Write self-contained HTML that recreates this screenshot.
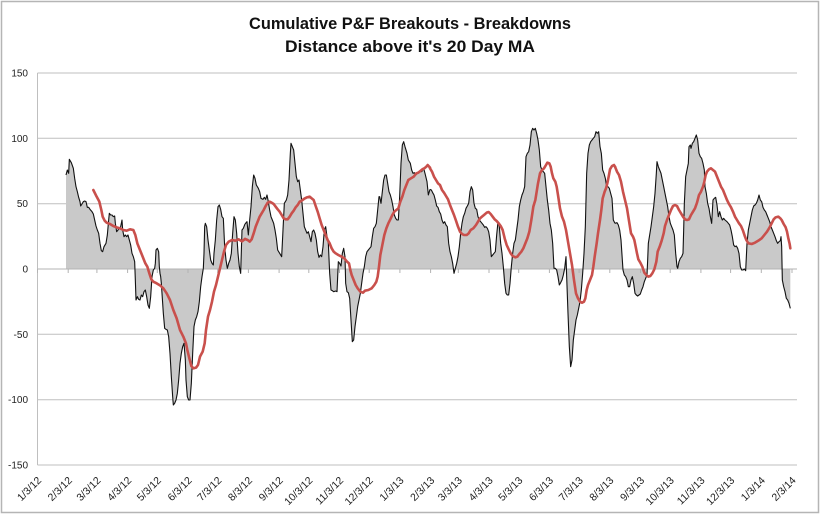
<!DOCTYPE html>
<html>
<head>
<meta charset="utf-8">
<style>
html,body{margin:0;padding:0;background:#fff;}
svg{display:block;}
</style>
</head>
<body>
<svg width="820" height="514" viewBox="0 0 820 514" xmlns="http://www.w3.org/2000/svg">
<rect x="0" y="0" width="820" height="514" fill="#fff"/>
<rect x="1.5" y="1.5" width="817" height="511" fill="none" stroke="#b5b5b5" stroke-width="1.5"/>

<!-- title -->
<text x="410" y="29" text-anchor="middle" font-family="Liberation Sans, sans-serif" font-weight="bold" font-size="17" fill="#111" textLength="322" lengthAdjust="spacingAndGlyphs">Cumulative P&amp;F Breakouts - Breakdowns</text>
<text x="410" y="52" text-anchor="middle" font-family="Liberation Sans, sans-serif" font-weight="bold" font-size="17" fill="#111" textLength="250" lengthAdjust="spacingAndGlyphs">Distance above it's 20 Day MA</text>

<!-- gridlines -->
<g stroke="#bfbfbf" stroke-width="1">
<line x1="37.5" y1="73" x2="797" y2="73"/>
<line x1="37.5" y1="138.3" x2="797" y2="138.3"/>
<line x1="37.5" y1="203.7" x2="797" y2="203.7"/>
<line x1="37.5" y1="334.3" x2="797" y2="334.3"/>
<line x1="37.5" y1="399.7" x2="797" y2="399.7"/>
<line x1="37.5" y1="465" x2="797" y2="465"/>
<line x1="37.5" y1="73" x2="37.5" y2="465"/>
</g>

<!-- y labels -->
<g font-family="Liberation Sans, sans-serif" font-size="10" fill="#222" text-anchor="end">
<text x="28" y="76.5">150</text>
<text x="28" y="141.8">100</text>
<text x="28" y="207.2">50</text>
<text x="28" y="272.5">0</text>
<text x="28" y="337.8">-50</text>
<text x="28" y="403.2">-100</text>
<text x="28" y="468.5">-150</text>
</g>

<!-- fills -->
<g fill="#c9c9c9" stroke="none">
<g transform="translate(60,120) scale(0.333333)">
<polygon points="18,447 18,165 22,150 26,160 28,118 34,128 40,145 44,175 48,200 52,215 56,232 60,245 62,258 66,252 70,245 74,243 78,245 82,262 86,262 90,268 96,275 100,282 104,300 108,318 112,330 116,340 120,370 124,392 128,395 132,380 138,370 142,345 146,300 148,280 152,285 156,285 160,290 164,288 166,310 170,335 174,330 178,325 182,320 186,300 188,330 192,350 196,345 200,350 204,345 208,360 212,375 216,400 220,410 224,425 226,480 228,540 232,530 236,538 240,540 244,525 248,530 252,515 256,510 260,530 264,555 268,565 272,530 276,470 280,450 284,445 286,430 288,390 292,385 296,395 298,440 300,460 302,470 304,490 306,520 310,580 314,625 318,628 322,630 326,650 330,700 334,770 338,830 340,855 344,850 348,840 352,820 356,780 360,730 364,700 368,680 372,670 376,720 378,780 382,830 386,840 390,840 394,790 398,700 402,620 406,600 410,590 414,575 418,545 422,500 426,470 430,445 432,400 434,320 436,310 440,320 444,360 448,390 452,420 456,430 460,435 462,400 466,360 470,300 474,260 478,255 482,268 486,290 490,295 494,380 498,420 502,445 506,430 510,420 514,400 518,340 522,290 526,300 530,340 534,400 538,440 542,460 546,330 550,325 555,318 558,314 558,447"/>
</g>
<g transform="translate(245,120) scale(0.333333)">
<polygon points="0,447 0,312 6,305 10,345 14,300 18,260 22,200 26,165 30,175 34,195 40,205 44,215 48,235 54,238 58,232 62,238 66,225 70,245 74,270 78,290 82,300 86,310 90,330 94,355 98,390 104,400 110,410 114,330 118,250 124,240 128,225 132,180 136,100 138,70 142,80 146,90 150,130 154,170 158,185 162,180 166,210 170,240 174,280 178,320 182,330 186,340 190,335 194,350 198,365 202,335 206,330 210,340 214,360 218,395 222,412 226,405 230,410 234,380 238,330 242,320 246,350 250,370 254,460 258,510 262,512 266,515 272,513 276,515 280,425 284,430 288,438 292,400 296,385 300,410 302,490 306,515 310,518 314,535 318,600 322,665 326,660 330,620 334,590 338,560 342,540 346,520 350,490 354,460 358,440 362,410 366,395 370,390 374,385 378,380 382,350 386,325 390,320 394,310 398,270 402,230 404,230 408,250 412,215 416,180 420,165 424,165 428,190 432,215 436,225 440,240 444,260 448,285 452,295 456,300 460,300 464,230 468,130 472,75 476,65 480,80 486,100 490,120 496,130 500,150 504,160 508,158 512,165 518,160 522,158 526,152 530,155 536,145 540,160 546,185 550,225 555,208 558,208 558,447"/>
</g>
<g transform="translate(430,120) scale(0.333333)">
<polygon points="0,447 0,208 4,210 8,218 12,225 16,240 20,258 24,262 28,275 32,282 36,300 40,310 44,305 48,315 52,320 56,370 60,395 64,410 68,430 72,460 76,445 80,430 84,410 88,380 92,340 96,310 100,290 104,280 108,265 112,258 116,250 120,215 124,200 128,210 132,250 136,265 140,268 144,290 148,300 152,305 156,310 160,315 164,322 168,320 172,325 176,335 180,360 184,410 188,405 192,400 196,395 200,345 204,305 208,320 212,370 216,400 220,440 224,490 228,520 232,525 236,525 240,490 244,440 248,400 252,370 256,360 260,330 264,300 268,260 272,240 276,225 280,215 284,200 288,110 292,100 296,95 300,75 304,35 308,25 312,30 316,25 320,40 324,60 328,90 332,140 336,150 340,155 344,160 348,200 352,240 356,270 360,310 364,330 368,370 372,445 376,445 380,450 384,470 388,495 392,488 396,480 400,465 404,445 408,410 410,470 414,580 418,680 422,740 426,720 430,660 434,630 438,600 442,585 446,565 450,545 454,510 458,460 462,400 466,320 470,160 474,100 478,75 482,65 486,60 490,55 494,50 498,35 502,40 506,35 510,80 514,100 518,150 522,160 526,175 530,200 534,200 538,205 542,220 546,235 550,300 555,310 558,310 558,447"/>
</g>
<g transform="translate(615,120) scale(0.333333)">
<polygon points="0,447 0,310 6,308 10,315 14,330 18,360 22,420 24,450 28,465 32,470 36,480 40,500 44,500 48,480 52,470 56,490 60,520 64,525 68,528 72,525 76,522 80,510 84,500 88,485 92,475 96,465 98,420 100,370 104,345 108,320 112,290 116,260 120,220 124,160 126,125 130,140 134,150 138,160 142,180 146,200 150,220 154,240 158,260 162,290 166,310 170,320 174,330 178,345 182,400 186,440 188,445 192,425 196,415 200,410 204,400 206,330 208,250 212,170 216,150 220,130 222,80 226,75 228,85 232,70 236,65 240,55 244,45 248,60 252,100 256,110 260,115 264,130 268,150 270,200 274,220 278,250 282,265 286,290 290,310 294,240 298,235 302,232 306,255 310,290 314,275 318,290 322,300 326,295 330,300 336,305 340,310 344,315 348,330 352,350 356,375 360,380 364,378 368,385 372,400 376,440 380,450 384,450 388,447 392,452 396,370 400,330 404,310 408,290 412,270 416,258 420,255 424,250 428,240 432,225 436,240 440,245 444,262 448,270 452,275 456,285 460,295 464,305 468,320 472,330 476,340 480,350 484,362 488,370 492,365 496,362 498,350 500,380 502,480 506,500 510,515 514,535 518,540 520,545 522,550 526,565 526,447"/>
</g>
</g>

<!-- zero axis + ticks -->
<g stroke="#b3b3b3" stroke-width="1">
<line x1="37.5" y1="269" x2="797" y2="269"/>
<line x1="37.5" y1="269" x2="37.5" y2="273"/>
<line x1="68.2" y1="269" x2="68.2" y2="273"/>
<line x1="96.9" y1="269" x2="96.9" y2="273"/>
<line x1="127.6" y1="269" x2="127.6" y2="273"/>
<line x1="157.3" y1="269" x2="157.3" y2="273"/>
<line x1="188" y1="269" x2="188" y2="273"/>
<line x1="217.7" y1="269" x2="217.7" y2="273"/>
<line x1="248.4" y1="269" x2="248.4" y2="273"/>
<line x1="279.1" y1="269" x2="279.1" y2="273"/>
<line x1="308.8" y1="269" x2="308.8" y2="273"/>
<line x1="339.5" y1="269" x2="339.5" y2="273"/>
<line x1="369.2" y1="269" x2="369.2" y2="273"/>
<line x1="399.9" y1="269" x2="399.9" y2="273"/>
<line x1="430.6" y1="269" x2="430.6" y2="273"/>
<line x1="458.3" y1="269" x2="458.3" y2="273"/>
<line x1="489" y1="269" x2="489" y2="273"/>
<line x1="518.7" y1="269" x2="518.7" y2="273"/>
<line x1="549.4" y1="269" x2="549.4" y2="273"/>
<line x1="579.1" y1="269" x2="579.1" y2="273"/>
<line x1="609.8" y1="269" x2="609.8" y2="273"/>
<line x1="640.5" y1="269" x2="640.5" y2="273"/>
<line x1="670.2" y1="269" x2="670.2" y2="273"/>
<line x1="700.9" y1="269" x2="700.9" y2="273"/>
<line x1="730.6" y1="269" x2="730.6" y2="273"/>
<line x1="761.3" y1="269" x2="761.3" y2="273"/>
<line x1="792" y1="269" x2="792" y2="273"/>
</g>

<!-- black line -->
<g fill="none" stroke="#111" stroke-width="1.1" stroke-linejoin="round">
<g transform="translate(60,120) scale(0.333333)">
<polyline vector-effect="non-scaling-stroke" points="18,165 22,150 26,160 28,118 34,128 40,145 44,175 48,200 52,215 56,232 60,245 62,258 66,252 70,245 74,243 78,245 82,262 86,262 90,268 96,275 100,282 104,300 108,318 112,330 116,340 120,370 124,392 128,395 132,380 138,370 142,345 146,300 148,280 152,285 156,285 160,290 164,288 166,310 170,335 174,330 178,325 182,320 186,300 188,330 192,350 196,345 200,350 204,345 208,360 212,375 216,400 220,410 224,425 226,480 228,540 232,530 236,538 240,540 244,525 248,530 252,515 256,510 260,530 264,555 268,565 272,530 276,470 280,450 284,445 286,430 288,390 292,385 296,395 298,440 300,460 302,470 304,490 306,520 310,580 314,625 318,628 322,630 326,650 330,700 334,770 338,830 340,855 344,850 348,840 352,820 356,780 360,730 364,700 368,680 372,670 376,720 378,780 382,830 386,840 390,840 394,790 398,700 402,620 406,600 410,590 414,575 418,545 422,500 426,470 430,445 432,400 434,320 436,310 440,320 444,360 448,390 452,420 456,430 460,435 462,400 466,360 470,300 474,260 478,255 482,268 486,290 490,295 494,380 498,420 502,445 506,430 510,420 514,400 518,340 522,290 526,300 530,340 534,400 538,440 542,460 546,330 550,325 555,312"/>
</g>
<g transform="translate(245,120) scale(0.333333)">
<polyline vector-effect="non-scaling-stroke" points="0,312 6,305 10,345 14,300 18,260 22,200 26,165 30,175 34,195 40,205 44,215 48,235 54,238 58,232 62,238 66,225 70,245 74,270 78,290 82,300 86,310 90,330 94,355 98,390 104,400 110,410 114,330 118,250 124,240 128,225 132,180 136,100 138,70 142,80 146,90 150,130 154,170 158,185 162,180 166,210 170,240 174,280 178,320 182,330 186,340 190,335 194,350 198,365 202,335 206,330 210,340 214,360 218,395 222,412 226,405 230,410 234,380 238,330 242,320 246,350 250,370 254,460 258,510 262,512 266,515 272,513 276,515 280,425 284,430 288,438 292,400 296,385 300,410 302,490 306,515 310,518 314,535 318,600 322,665 326,660 330,620 334,590 338,560 342,540 346,520 350,490 354,460 358,440 362,410 366,395 370,390 374,385 378,380 382,350 386,325 390,320 394,310 398,270 402,230 404,230 408,250 412,215 416,180 420,165 424,165 428,190 432,215 436,225 440,240 444,260 448,285 452,295 456,300 460,300 464,230 468,130 472,75 476,65 480,80 486,100 490,120 496,130 500,150 504,160 508,158 512,165 518,160 522,158 526,152 530,155 536,145 540,160 546,185 550,225 555,208"/>
</g>
<g transform="translate(430,120) scale(0.333333)">
<polyline vector-effect="non-scaling-stroke" points="0,208 4,210 8,218 12,225 16,240 20,258 24,262 28,275 32,282 36,300 40,310 44,305 48,315 52,320 56,370 60,395 64,410 68,430 72,460 76,445 80,430 84,410 88,380 92,340 96,310 100,290 104,280 108,265 112,258 116,250 120,215 124,200 128,210 132,250 136,265 140,268 144,290 148,300 152,305 156,310 160,315 164,322 168,320 172,325 176,335 180,360 184,410 188,405 192,400 196,395 200,345 204,305 208,320 212,370 216,400 220,440 224,490 228,520 232,525 236,525 240,490 244,440 248,400 252,370 256,360 260,330 264,300 268,260 272,240 276,225 280,215 284,200 288,110 292,100 296,95 300,75 304,35 308,25 312,30 316,25 320,40 324,60 328,90 332,140 336,150 340,155 344,160 348,200 352,240 356,270 360,310 364,330 368,370 372,445 376,445 380,450 384,470 388,495 392,488 396,480 400,465 404,445 408,410 410,470 414,580 418,680 422,740 426,720 430,660 434,630 438,600 442,585 446,565 450,545 454,510 458,460 462,400 466,320 470,160 474,100 478,75 482,65 486,60 490,55 494,50 498,35 502,40 506,35 510,80 514,100 518,150 522,160 526,175 530,200 534,200 538,205 542,220 546,235 550,300 555,310"/>
</g>
<g transform="translate(615,120) scale(0.333333)">
<polyline vector-effect="non-scaling-stroke" points="0,310 6,308 10,315 14,330 18,360 22,420 24,450 28,465 32,470 36,480 40,500 44,500 48,480 52,470 56,490 60,520 64,525 68,528 72,525 76,522 80,510 84,500 88,485 92,475 96,465 98,420 100,370 104,345 108,320 112,290 116,260 120,220 124,160 126,125 130,140 134,150 138,160 142,180 146,200 150,220 154,240 158,260 162,290 166,310 170,320 174,330 178,345 182,400 186,440 188,445 192,425 196,415 200,410 204,400 206,330 208,250 212,170 216,150 220,130 222,80 226,75 228,85 232,70 236,65 240,55 244,45 248,60 252,100 256,110 260,115 264,130 268,150 270,200 274,220 278,250 282,265 286,290 290,310 294,240 298,235 302,232 306,255 310,290 314,275 318,290 322,300 326,295 330,300 336,305 340,310 344,315 348,330 352,350 356,375 360,380 364,378 368,385 372,400 376,440 380,450 384,450 388,447 392,452 396,370 400,330 404,310 408,290 412,270 416,258 420,255 424,250 428,240 432,225 436,240 440,245 444,262 448,270 452,275 456,285 460,295 464,305 468,320 472,330 476,340 480,350 484,362 488,370 492,365 496,362 498,350 500,380 502,480 506,500 510,515 514,535 518,540 520,545 522,550 526,565"/>
</g>
</g>

<!-- red MA line -->
<g fill="none" stroke="#c9504c" stroke-width="2.6" stroke-linejoin="round" stroke-linecap="round">
<g transform="translate(60,120) scale(0.333333)">
<polyline vector-effect="non-scaling-stroke" points="100,210 110,230 118,245 124,270 128,290 134,302 140,308 150,312 160,318 170,322 180,325 190,330 200,332 210,328 220,330 226,345 232,370 238,385 244,400 250,415 256,430 262,440 268,460 274,478 280,485 290,490 300,496 310,505 320,520 330,540 340,570 350,595 360,630 370,650 378,670 382,690 388,715 394,738 400,745 408,743 414,735 420,710 428,695 434,670 438,630 444,590 450,570 456,545 462,515 468,495 474,470 480,445 486,420 492,395 498,375 506,365 516,360 526,362 536,358 546,364 555,357"/>
</g>
<g transform="translate(245,120) scale(0.333333)">
<polyline vector-effect="non-scaling-stroke" points="0,357 8,360 14,365 20,358 26,340 32,320 38,305 44,290 50,280 56,270 62,258 68,248 74,245 80,248 86,252 92,260 98,268 104,275 110,285 116,295 122,298 128,298 134,290 140,280 146,272 152,262 158,255 164,245 170,242 178,236 186,232 194,230 200,235 206,240 212,258 218,275 224,295 230,315 236,330 242,345 248,360 254,370 260,385 266,395 272,400 280,405 290,410 298,415 306,425 312,430 316,450 320,465 326,480 332,495 338,505 346,515 354,518 360,512 370,510 380,505 388,495 394,485 398,470 402,440 406,405 410,385 414,365 418,345 424,325 430,310 436,298 442,285 448,275 454,270 460,265 466,245 472,230 478,210 484,195 490,180 498,175 506,170 514,160 520,158 526,153 532,148 538,145 544,140 548,135 555,143"/>
</g>
<g transform="translate(430,120) scale(0.333333)">
<polyline vector-effect="non-scaling-stroke" points="0,145 6,155 12,170 18,180 24,190 30,195 36,210 42,218 48,228 54,238 60,255 66,270 72,285 78,302 84,320 90,335 96,342 102,345 110,345 116,340 122,330 130,325 138,315 144,305 150,295 156,290 162,285 170,278 176,276 182,282 188,290 194,298 200,303 206,310 212,318 218,330 224,355 230,375 236,388 242,400 248,408 256,412 262,410 268,402 274,395 280,385 286,370 292,355 298,335 304,300 310,260 316,240 320,215 324,190 330,160 336,150 342,145 348,135 352,128 358,130 362,140 366,160 370,175 376,185 380,200 384,225 390,265 396,290 402,305 408,330 414,365 420,400 426,435 432,480 438,520 444,535 450,545 456,548 462,545 466,535 470,510 474,495 480,480 486,465 490,440 494,410 500,370 504,340 510,300 514,270 518,235 524,215 528,205 532,190 536,170 540,148 546,138 552,135 555,140"/>
</g>
<g transform="translate(615,120) scale(0.333333)">
<polyline vector-effect="non-scaling-stroke" points="0,140 6,155 12,165 18,185 24,215 30,240 36,265 40,290 44,315 48,340 54,350 58,360 62,380 66,400 70,418 76,428 82,440 88,458 94,465 100,470 106,468 112,460 118,448 124,425 128,395 134,380 140,362 146,340 150,318 156,300 162,285 168,270 174,258 180,255 186,258 192,270 198,280 204,290 210,298 216,300 222,298 228,285 234,275 240,265 246,248 252,225 258,215 264,200 268,185 272,165 276,155 282,148 288,145 294,150 300,155 306,170 312,185 318,200 324,210 330,225 336,240 342,252 348,262 354,275 360,290 366,300 372,310 378,318 384,332 390,350 394,360 400,370 410,372 420,368 430,362 440,355 448,345 456,335 464,322 470,310 476,298 482,292 490,290 496,295 500,300 506,312 512,322 516,335 520,355 524,372 526,385"/>
</g>
</g>

<!-- x labels -->
<g font-family="Liberation Sans, sans-serif" font-size="10.5" fill="#222" text-anchor="end">
<text transform="translate(42,481) rotate(-45)">1/3/12</text>
<text transform="translate(72.7,481) rotate(-45)">2/3/12</text>
<text transform="translate(101.4,481) rotate(-45)">3/3/12</text>
<text transform="translate(132.1,481) rotate(-45)">4/3/12</text>
<text transform="translate(161.8,481) rotate(-45)">5/3/12</text>
<text transform="translate(192.5,481) rotate(-45)">6/3/12</text>
<text transform="translate(222.2,481) rotate(-45)">7/3/12</text>
<text transform="translate(252.9,481) rotate(-45)">8/3/12</text>
<text transform="translate(283.6,481) rotate(-45)">9/3/12</text>
<text transform="translate(313.3,481) rotate(-45)">10/3/12</text>
<text transform="translate(344,481) rotate(-45)">11/3/12</text>
<text transform="translate(373.7,481) rotate(-45)">12/3/12</text>
<text transform="translate(404.4,481) rotate(-45)">1/3/13</text>
<text transform="translate(435.1,481) rotate(-45)">2/3/13</text>
<text transform="translate(462.8,481) rotate(-45)">3/3/13</text>
<text transform="translate(493.5,481) rotate(-45)">4/3/13</text>
<text transform="translate(523.2,481) rotate(-45)">5/3/13</text>
<text transform="translate(553.9,481) rotate(-45)">6/3/13</text>
<text transform="translate(583.6,481) rotate(-45)">7/3/13</text>
<text transform="translate(614.3,481) rotate(-45)">8/3/13</text>
<text transform="translate(645,481) rotate(-45)">9/3/13</text>
<text transform="translate(674.7,481) rotate(-45)">10/3/13</text>
<text transform="translate(705.4,481) rotate(-45)">11/3/13</text>
<text transform="translate(735.1,481) rotate(-45)">12/3/13</text>
<text transform="translate(765.8,481) rotate(-45)">1/3/14</text>
<text transform="translate(796.5,481) rotate(-45)">2/3/14</text>
</g>
</svg>
</body>
</html>
